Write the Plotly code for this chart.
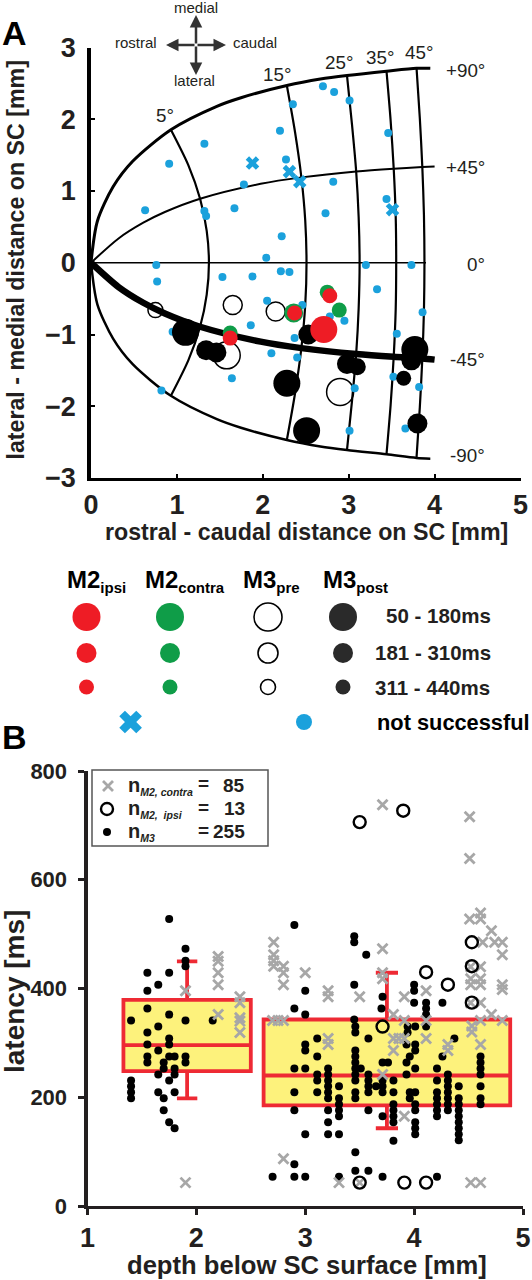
import plotly.graph_objects as go

W, H = 532, 1280
DARK = "#231f20"
BLUE = "#1ba1dc"
RED = "#ee1c25"
GREEN = "#0f9d48"
GREY = "#a7a7a7"
BOXRED = "#ee2a34"
YELLOW = "#fdf27c"
FONT = "Liberation Sans"

# ---- Panel A: map grid
ang_p90_x = [0, 0.074, 0.257, 0.485, 0.93, 1.465, 1.746, 2.28, 2.67, 2.98, 3.44, 3.79, 3.95]
ang_p90_y = [0, 0.579, 1.058, 1.414, 1.854, 2.18, 2.30, 2.47, 2.56, 2.61, 2.67, 2.71, 2.71]
ang_m90_x = [0, 0.074, 0.257, 0.485, 0.93, 1.465, 1.746, 2.28, 2.67, 2.98, 3.44, 3.79, 3.95]
ang_m90_y = [0, -0.579, -1.058, -1.414, -1.854, -2.18, -2.30, -2.47, -2.56, -2.61, -2.67, -2.72, -2.73]
ang_p45_x = [0, 0.321, 0.609, 0.86, 1.27, 1.975, 2.449, 3.087, 3.524, 3.857, 4.0]
ang_p45_y = [0, 0.339, 0.558, 0.707, 0.892, 1.10, 1.19, 1.273, 1.311, 1.333, 1.34]
ang_m45_x = [0, 0.321, 0.609, 0.86, 1.27, 1.975, 2.449, 3.087, 3.524, 3.857, 4.0]
ang_m45_y = [0, -0.339, -0.558, -0.707, -0.892, -1.10, -1.19, -1.273, -1.311, -1.333, -1.35]
ang_0_x = [0, 3.9]
ang_0_y = [0, 0]
ecc5_x = [0.93, 1.134, 1.27, 1.347, 1.373, 1.347, 1.27, 1.134, 0.93]
ecc5_y = [1.854, 1.358, 0.892, 0.443, 0, -0.443, -0.892, -1.358, -1.854]
ecc15_x = [2.28, 2.376, 2.449, 2.494, 2.509, 2.494, 2.449, 2.376, 2.28]
ecc15_y = [2.47, 1.815, 1.19, 0.591, 0, -0.591, -1.19, -1.815, -2.47]
ecc25_x = [2.98, 3.038, 3.087, 3.116, 3.127, 3.116, 3.087, 3.038, 2.98]
ecc25_y = [2.61, 1.931, 1.273, 0.633, 0, -0.633, -1.273, -1.931, -2.61]
ecc35_x = [3.44, 3.488, 3.524, 3.547, 3.553, 3.547, 3.524, 3.488, 3.44]
ecc35_y = [2.67, 1.983, 1.311, 0.653, 0, -0.653, -1.311, -1.983, -2.67]
ecc45_x = [3.79, 3.828, 3.857, 3.876, 3.882, 3.876, 3.857, 3.828, 3.79]
ecc45_y = [2.71, 2.013, 1.333, 0.663, 0, -0.663, -1.333, -2.013, -2.71]

# ---- Panel A: sites
ns_dot_x = [2.70, 2.83, 3.01, 2.35, 2.20, 3.46, 1.32, 0.91, 2.27, 1.78, 2.82, 0.63, 1.32, 1.34, 1.67, 2.73, 3.44, 2.22, 2.04,
            0.76, 0.77, 1.53, 1.88, 2.21, 2.31, 3.20, 3.73, 3.33, 2.05, 2.46, 3.86, 2.95, 2.78, 1.86, 2.37, 0.95, 3.56, 2.10,
            2.40, 3.52, 1.64, 3.07, 3.82, 0.82, 3.01, 3.66]
ns_dot_y = [2.46, 2.38, 2.26, 2.21, 1.84, 1.81, 1.66, 1.38, 1.44, 1.09, 1.13, 0.73, 0.72, 0.65, 0.76, 0.69, 0.89, 0.37, 0.07,
            -0.03, -0.26, -0.20, -0.19, -0.12, -0.13, -0.03, -0.03, -0.37, -0.53, -0.59, -0.69, -0.81, -0.75, -0.87, -1.05,
            -0.96, -0.99, -1.26, -1.32, -1.59, -1.61, -1.75, -1.73, -1.78, -2.34, -2.31]
ns_x_x = [1.88, 2.31, 2.43, 3.51]
ns_x_y = [1.39, 1.27, 1.13, 0.74]
post_x = [1.10, 2.28, 2.51, 3.77, 1.34, 1.46, 2.53, 2.98, 3.10, 3.73, 3.64, 3.80]
post_y = [-0.97, -1.68, -2.34, -1.21, -1.22, -1.25, -1.00, -1.41, -1.45, -1.36, -1.61, -2.24]
post_d = [27, 27, 27, 27, 20, 20, 20, 20, 17, 20, 15, 20]
pre_x = [1.65, 2.15, 0.75, 1.58, 2.90]
pre_y = [-0.59, -0.68, -0.66, -1.29, -1.80]
pre_d = [19, 19, 15, 27, 27]
contra_x = [1.62, 2.36, 2.75, 2.89]
contra_y = [-0.98, -0.70, -0.41, -0.66]
contra_d = [15, 19, 15, 15]
ipsi_x = [1.62, 2.37, 2.78, 2.71]
ipsi_y = [-1.05, -0.70, -0.46, -0.93]
ipsi_d = [15, 15, 15, 27]

# ---- Panel B: latency vs depth
m3_x = [1.75, 1.90, 1.90, 1.90, 1.55, 1.75, 1.65, 1.55, 1.55, 1.75, 1.40, 1.90, 2.15, 1.65, 1.55, 1.75, 1.75, 1.55, 1.65,
        1.75, 1.80, 1.55, 1.90, 1.55, 1.90, 1.70, 1.70, 1.80, 1.80, 1.65, 1.75, 1.40, 1.40, 1.40, 1.65, 1.80, 1.40, 1.70,
        1.70, 1.75, 1.80,
        2.90, 2.90, 2.90, 2.90, 2.90, 2.90, 2.70, 2.90,
        3.00, 3.00, 3.45, 3.45, 3.56, 3.45, 3.71, 3.70, 4.00, 4.00, 4.00, 4.11, 4.11, 4.26, 3.45,
        3.46, 3.46, 3.58, 3.00, 3.00, 3.11, 3.11, 3.00,
        3.21, 3.21, 3.21, 3.21, 3.21, 3.11, 3.11, 3.11, 3.31, 3.31, 3.31, 3.31, 3.31, 3.21, 3.21, 3.21, 3.21, 3.31, 3.00,
        3.46, 3.46, 3.46, 3.46, 3.46, 3.46, 3.51, 3.46, 3.46, 3.58, 3.58, 3.58, 3.58, 3.58, 3.65, 3.71, 3.76,
        3.71, 3.71, 3.71, 3.81, 3.81, 3.81, 3.81, 3.81, 3.81, 3.71, 3.81,
        3.94, 3.94, 4.01, 4.11, 4.11, 3.93, 4.01, 4.01, 3.96, 3.93, 4.01, 3.93, 3.96, 3.96, 4.01, 4.01, 4.01, 4.01, 4.01, 4.01,
        4.21, 4.21, 4.21, 4.21, 4.21, 4.21, 4.21,
        4.31, 4.31, 4.31, 4.31, 4.31, 4.31, 4.31, 4.26, 4.37,
        4.41, 4.41, 4.41, 4.41, 4.41, 4.41, 4.41, 4.41, 4.41,
        4.61, 4.61, 4.61, 4.61, 4.61, 4.61, 4.61,
        3.46, 3.46, 3.58, 3.31, 3.71, 3.00, 4.21]
m3_y = [528, 473, 451, 441, 429, 429, 407, 396, 363, 352, 341, 341, 341, 330, 319, 308, 297, 297, 286,
        275, 275, 275, 275, 264, 264, 264, 253, 253, 242, 242, 231, 231, 220, 209, 209, 209, 198, 198,
        176, 154, 143,
        517, 363, 253, 209, 176, 77, 54, 54,
        396, 352, 496, 485, 462, 407, 385, 363, 407, 396, 374, 374, 363, 374, 343,
        330, 319, 308, 297, 286, 308, 275, 253,
        253, 242, 231, 220, 209, 242, 231, 209, 220, 198, 187, 176, 165, 198, 176, 154, 132, 132, 132,
        286, 275, 264, 253, 242, 231, 253, 209, 198, 242, 231, 220, 209, 176, 220, 264, 264,
        231, 220, 209, 231, 209, 187, 176, 165, 154, 165, 120,
        330, 319, 330, 330, 352, 297, 297, 286, 275, 264, 253, 242, 209, 198, 209, 187, 176, 154, 143, 132,
        253, 231, 209, 198, 187, 176, 165,
        242, 231, 220, 209, 198, 187, 176, 275, 308,
        220, 198, 187, 176, 165, 154, 143, 132, 121,
        275, 264, 253, 242, 220, 198, 187,
        99, 65, 65, 54, 54, 54, 54]
m2c_x = [2.20, 2.20, 2.20, 2.20, 1.90, 2.20, 2.40, 2.40, 2.40, 2.71, 2.71, 2.71, 2.71, 2.80, 2.80, 2.80, 3.00,
         2.40, 2.40, 2.70, 2.75, 2.80, 1.90, 2.80,
         3.71, 4.51, 4.51, 4.51, 4.61, 4.61, 4.71, 4.63, 4.74, 4.81, 4.81, 3.71, 3.21, 3.21, 3.50, 3.71, 3.71, 3.91, 4.11,
         4.52, 4.61, 4.52, 4.52, 4.61, 4.61, 4.52, 4.61, 4.81, 4.81, 3.81, 4.71,
         3.91, 4.11, 4.61, 4.81, 3.21, 3.21, 3.81, 3.86, 3.91, 3.81, 4.11, 4.31, 4.31, 4.53, 4.53, 4.61, 3.71, 3.91,
         3.31, 3.50, 4.52, 4.61]
m2c_y = [459, 450, 429, 407, 396, 352, 385, 374, 346, 485, 462, 451, 441, 441, 429, 407, 429,
         340, 319, 341, 341, 341, 43, 87,
         738, 716, 639, 528, 539, 528, 506, 485, 485, 485, 462, 473, 396, 385, 385, 429, 418, 385, 396,
         440, 440, 418, 407, 418, 407, 374, 374, 407, 398, 352, 352,
         341, 341, 341, 341, 308, 297, 308, 308, 308, 286, 308, 297, 286, 331, 320, 297, 242, 165,
         43, 43, 43, 43]
m2i_x = [3.50, 3.90, 4.53, 4.53, 4.11, 4.31, 4.53, 3.71, 3.50, 3.91, 4.11]
m2i_y = [706, 727, 485, 441, 430, 407, 374, 330, 43, 43, 43]

box_center = [1.915, 3.75]
box_width = [1.17, 2.265]
box_q1 = [248, 185]
box_med = [296, 240]
box_q3 = [379, 343]
box_low = [198, 143]
box_high = [450, 429]
box_cap = [0.16, 0.09]

ticks_a_x = [0, 1, 2, 3, 4, 5]
ticks_a_y = [-3, -2, -1, 0, 1, 2, 3]
ticks_b_x = [1, 2, 3, 4, 5]
ticks_b_y = [0, 200, 400, 600, 800]

# Legend layout (figure pixels)
leg_col = [86.5, 170, 268, 343]
leg_row = [617, 653, 687]
leg_d = [28, 20, 15]


def pxx(x):
    return x / W


def pxy(y):
    return 1 - y / H


fig = go.Figure()


def curve(x, y, width):
    fig.add_trace(go.Scatter(x=x, y=y, mode="lines", xaxis="x", yaxis="y", hoverinfo="skip",
                             line=dict(color="black", width=width, shape="spline", smoothing=0.8)))


def dots(x, y, size, color, ax="", line=None, symbol="circle"):
    fig.add_trace(go.Scatter(x=x, y=y, mode="markers", xaxis="x" + ax, yaxis="y" + ax, cliponaxis=False,
                             marker=dict(size=size, color=color, symbol=symbol, opacity=1,
                                         line=line or dict(width=0))))


# Panel A
dots(pre_x, pre_y, pre_d, "white", line=dict(color="black", width=1.5))
for cx, cy, w in [(ang_p90_x, ang_p90_y, 3), (ang_m90_x, ang_m90_y, 2.5), (ang_p45_x, ang_p45_y, 2),
                  (ang_m45_x, ang_m45_y, 6.5), (ang_0_x, ang_0_y, 1.5), (ecc5_x, ecc5_y, 2.2),
                  (ecc15_x, ecc15_y, 2.2), (ecc25_x, ecc25_y, 2.2), (ecc35_x, ecc35_y, 2.2),
                  (ecc45_x, ecc45_y, 2.2)]:
    curve(cx, cy, w)
dots(ns_dot_x, ns_dot_y, 8, BLUE)
dots(ns_x_x, ns_x_y, 12, BLUE, symbol="x", line=dict(width=0))
dots(post_x, post_y, post_d, "black")
dots(contra_x, contra_y, contra_d, GREEN)
dots(ipsi_x, ipsi_y, ipsi_d, RED)

# Panel B
for i in range(2):
    fig.add_trace(go.Box(x=[box_center[i]], xaxis="x2", yaxis="y2", q1=[box_q1[i]], median=[box_med[i]],
                         q3=[box_q3[i]], lowerfence=[box_low[i]], upperfence=[box_high[i]],
                         width=box_width[i], whiskerwidth=box_cap[i], fillcolor=YELLOW,
                         line=dict(color=BOXRED, width=3.8), boxpoints=False, orientation="v"))
dots(m3_x, m3_y, 8, "black", ax="2")
dots(m2c_x, m2c_y, 10, GREY, ax="2", symbol="x-thin", line=dict(color=GREY, width=2.8))
dots(m2i_x, m2i_y, 12, "rgba(0,0,0,0)", ax="2", line=dict(color="black", width=2.4))

# Legend keys on a full-figure helper axis
key_colors = [RED, GREEN, "white", "#2a2a2a"]
for c, color in enumerate(key_colors):
    line = dict(color="black", width=1.6) if color == "white" else None
    dots([leg_col[c]] * 3, leg_row, leg_d, color, ax="3", line=line)
dots([130.6], [722], 20, BLUE, ax="3", symbol="x")
dots([304], [722], 16, BLUE, ax="3")
dots([108], [786], 10, GREY, ax="3", symbol="x-thin", line=dict(color=GREY, width=2.8))
dots([107], [809], 12, "rgba(0,0,0,0)", ax="3", line=dict(color="black", width=2.4))
dots([107], [832], 8, "black", ax="3")


def text(s, x, y, size, anchor="center", bold=True, angle=0, color=DARK, font=FONT):
    if bold:
        s = "<b>" + s + "</b>"
    return dict(text=s, x=pxx(x), y=pxy(y), xref="paper", yref="paper", showarrow=False, xanchor=anchor,
                yanchor="middle", textangle=angle, font=dict(family=font, size=size, color=color))


sub = '<sub><span style="font-size:%spx">%s</span></sub>'
ann = [
    text("A", 0, 33, 34, "left", color="black"),
    text("B", 0, 737, 34, "left", color="black"),
    text("rostral - caudal distance on SC [mm]", 306, 532, 23.2),
    text("lateral - medial distance on SC [mm]", 15.5, 260, 23.2, angle=-90),
    text("depth below SC surface [mm]", 306.5, 1264.5, 25.6),
    text("latency [ms]", 14, 992, 28, angle=-90),
    text("medial", 196, 7, 15, bold=False),
    text("lateral", 194, 81, 15, bold=False),
    text("rostral", 136, 43, 15, bold=False),
    text("caudal", 254.5, 43, 15, bold=False),
    text("5°", 165, 116, 18.8, bold=False),
    text("15°", 276.5, 74, 18.8, bold=False),
    text("25°", 339, 62, 18.8, bold=False),
    text("35°", 380, 58, 18.8, bold=False),
    text("45°", 419, 53, 18.8, bold=False),
    text("+90°", 465, 71, 18.8, bold=False),
    text("+45°", 465, 167, 18.8, bold=False),
    text("0°", 476, 264, 18.8, bold=False),
    text("-45°", 467, 359, 18.8, bold=False),
    text("-90°", 467, 456, 18.8, bold=False),
    text("M2" + sub % (15, "ipsi"), 65, 581, 24, "left", color="black"),
    text("M2" + sub % (15, "contra"), 143, 581, 24, "left", color="black"),
    text("M3" + sub % (15, "pre"), 241, 581, 24, "left", color="black"),
    text("M3" + sub % (15, "post"), 321, 581, 24, "left", color="black"),
    text("50 - 180ms", 493, 615, 20.5, "right"),
    text("181 - 310ms", 493, 652, 20.5, "right"),
    text("311 - 440ms", 492, 687, 20.5, "right"),
    text("not successful", 532, 722, 21.8, "right", color="black"),
    text("n" + sub % (10.5, "<i>M2, contra</i>"), 126, 786, 20, "left"),
    text("n" + sub % (10.5, "<i>M2,  ipsi</i>"), 126, 809, 20, "left"),
    text("n" + sub % (10.5, "<i>M3</i>"), 126, 832, 20, "left"),
    text("=", 203, 783, 19), text("=", 203, 807, 19), text("=", 203, 830, 19),
    text("85", 247, 785, 19, "right"), text("13", 247, 808, 19, "right"), text("255", 247, 831, 19, "right"),
]
for dx, dy in [(-30, 0), (30, 0), (0, -30), (0, 30)]:
    ann.append(dict(x=pxx(196 + dx), y=pxy(45 + dy), ax=-dx, ay=-dy, xref="paper", yref="paper",
                    text="", showarrow=True, arrowhead=2, arrowsize=1.0,
                    arrowwidth=2.5, arrowcolor="#333333"))

tickfont_a = dict(family=FONT, size=27, color=DARK, weight="bold")
tickfont_bx = dict(family=FONT, size=27, color=DARK, weight="bold")
tickfont_by = dict(family=FONT, size=22, color=DARK, weight="bold")
fig.update_layout(
    width=W, height=H, margin=dict(l=0, r=0, t=0, b=0, autoexpand=False), paper_bgcolor="white",
    plot_bgcolor="rgba(0,0,0,0)", showlegend=False, annotations=ann, boxmode="overlay",
    xaxis=dict(domain=[pxx(91), pxx(520.5)], range=[0, 5], tickvals=ticks_a_x, ticks="inside", ticklen=4, tickwidth=2,
               tickcolor="black", showline=True, linecolor="black", linewidth=3, showgrid=False, zeroline=False,
               tickfont=tickfont_a, anchor="y", ticklabelstandoff=1),
    yaxis=dict(domain=[pxy(478), pxy(47.5)], range=[-3, 3], tickvals=ticks_a_y, ticks="inside", ticklen=4, tickwidth=2,
               tickcolor="black", showline=True, linecolor="black", linewidth=3.5, showgrid=False, zeroline=False,
               tickfont=tickfont_a, anchor="x", ticklabelstandoff=6),
    xaxis2=dict(domain=[pxx(87.5), pxx(523)], range=[1, 5], tickvals=ticks_b_x, ticks="outside", ticklen=6, tickwidth=2.5,
                tickcolor=DARK, showline=True, linecolor=DARK, linewidth=3, showgrid=False, zeroline=False,
                tickfont=tickfont_bx, anchor="y2"),
    yaxis2=dict(domain=[pxy(1206), pxy(771)], range=[0, 800], tickvals=ticks_b_y, ticks="outside", ticklen=6, tickwidth=2.5,
                tickcolor=DARK, showline=True, linecolor=DARK, linewidth=4, showgrid=False, zeroline=False,
                tickfont=tickfont_by, anchor="x2", ticklabelstandoff=6),
    xaxis3=dict(domain=[0, 1], range=[0, W], visible=False, anchor="y3"),
    yaxis3=dict(domain=[0, 1], range=[H, 0], visible=False, anchor="x3"),
    shapes=[dict(type="rect", xref="paper", yref="paper", x0=pxx(92), x1=pxx(268), y0=pxy(770), y1=pxy(846),
                 line=dict(color="#555555", width=1.5), fillcolor="rgba(0,0,0,0)")],
)
fig.write_html("out.html", config=dict(displayModeBar=False), post_script="document.body.style.margin='0';")
